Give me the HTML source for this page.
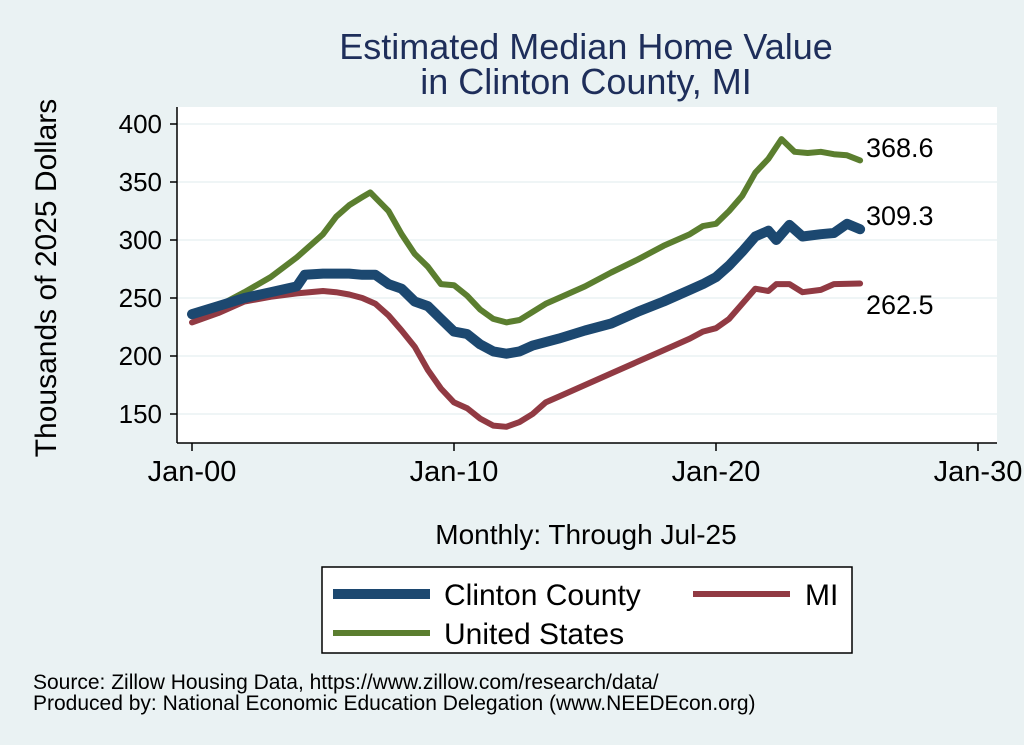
<!DOCTYPE html>
<html><head><meta charset="utf-8"><style>
body{margin:0;background:#eaf2f3;}
svg{display:block;font-family:"Liberation Sans",Arial,sans-serif;}
</style></head><body>
<svg id="chart" width="1024" height="745">
<rect width="1024" height="745" fill="#eaf2f3"/>
<rect x="177" y="107" width="820" height="336" fill="#ffffff"/>
<text x="586" y="59" text-anchor="middle" font-size="36" fill="#1e2e5a">Estimated Median Home Value</text>
<text x="586" y="94" text-anchor="middle" font-size="36" fill="#1e2e5a">in Clinton County, MI</text>
<text transform="translate(56,278) rotate(-90)" text-anchor="middle" font-size="30" fill="#000">Thousands of 2025 Dollars</text>
<text x="586" y="544" text-anchor="middle" font-size="28" fill="#000">Monthly: Through Jul-25</text>
<g id="grid"></g><g id="axes"></g><g id="series"></g>
<rect x="322" y="567" width="530" height="86" fill="#fff" stroke="#000" stroke-width="1.5"/>
<g><line x1="333" y1="594" x2="430" y2="594" stroke="#1c4870" stroke-width="10"/><text x="444" y="605" font-size="30">Clinton County</text></g>
<g><line x1="693" y1="594" x2="790" y2="594" stroke="#913a43" stroke-width="6"/><text x="805" y="605" font-size="30">MI</text></g>
<g><line x1="333" y1="633" x2="430" y2="633" stroke="#5b7e2f" stroke-width="6"/><text x="444" y="644" font-size="30">United States</text></g>
<text x="33" y="689" font-size="21">Source: Zillow Housing Data, https://www.zillow.com/research/data/</text>
<text x="33" y="710" font-size="21">Produced by: National Economic Education Delegation (www.NEEDEcon.org)</text>
</svg>
<script>
const yTicks=[150,200,250,300,350,400];
const xTicks=[2000,2010,2020,2030];
const xTickLabels=["Jan-00","Jan-10","Jan-20","Jan-30"];
const usYears=[2000,2001,2002,2003,2004,2005,2005.5,2006,2006.5,2006.8,2007.5,2008,2008.5,2009,2009.5,2010,2010.5,2011,2011.5,2012,2012.5,2013,2013.5,2014,2015,2016,2017,2018,2019,2019.5,2020,2020.5,2021,2021.5,2022,2022.5,2023,2023.5,2024,2024.5,2025,2025.5];
const usVals=[235,243,255,268,285,305,320,330,337,341,325,305,288,277,262,261,252,240,232,229,231,238,245,250,260,272,283,295,305,312,314,325,338,358,370,387,376,375,376,374,373,368.6];
const clYears=[2000,2001,2002,2003,2004,2004.3,2005,2006,2006.5,2007,2007.5,2008,2008.5,2009,2009.5,2010,2010.5,2011,2011.5,2012,2012.5,2013,2014,2015,2016,2017,2018,2019,2019.5,2020,2020.5,2021,2021.5,2022,2022.3,2022.8,2023.3,2024,2024.5,2025,2025.5];
const clVals=[236,243,250,255,260,270,271,271,270,270,262,258,247,243,232,221,219,210,204,202,204,209,215,222,228,238,247,257,262,268,278,290,303,308,300,313,303,305,306,314,309.3];
const miYears=[2000,2001,2002,2003,2004,2005,2005.5,2006,2006.5,2007,2007.5,2008,2008.5,2009,2009.5,2010,2010.5,2011,2011.5,2012,2012.5,2013,2013.5,2014,2015,2016,2017,2018,2019,2019.5,2020,2020.5,2021,2021.5,2022,2022.3,2022.8,2023.3,2024,2024.5,2025.5];
const miVals=[229,237,247,251,254,256,255,253,250,245,235,222,208,188,172,160,155,146,140,139,143,150,160,165,175,185,195,205,215,221,224,232,245,258,256,262,262,255,257,262,262.5];
const NS="http://www.w3.org/2000/svg";
const X=v=>192+(v-2000)*26.2;
const Y=v=>124+(400-v)*1.16;
function mk(tag,attrs,parent){const e=document.createElementNS(NS,tag);for(const k in attrs)e.setAttribute(k,attrs[k]);parent.appendChild(e);return e;}
const grid=document.getElementById('grid'),axes=document.getElementById('axes'),ser=document.getElementById('series');
mk('line',{x1:177,y1:443,x2:997,y2:443,stroke:'#000','stroke-width':1.5},axes);
mk('line',{x1:177,y1:107,x2:177,y2:443,stroke:'#000','stroke-width':1.5},axes);
yTicks.forEach(t=>{
 const g=mk('line',{x1:177,y1:Y(t),x2:997,y2:Y(t),stroke:'#eaf2f3','stroke-width':1.5},grid);
 
 
 mk('line',{x1:170,y1:Y(t),x2:177,y2:Y(t),stroke:'#000','stroke-width':1.5},axes);
 const tx=mk('text',{x:162,y:Y(t)+9,'text-anchor':'end','font-size':26},axes);tx.textContent=t;
 
 
});
xTicks.forEach((t,i)=>{
 mk('line',{x1:X(t),y1:443,x2:X(t),y2:451,stroke:'#000','stroke-width':1.5},axes);
 const tx=mk('text',{x:X(t),y:481,'text-anchor':'middle','font-size':29},axes);tx.textContent=xTickLabels[i];
 
 
});
function line(xs,vs,color,w,name,label,ly){
 const p=mk('path',{d:xs.map((x,i)=>(i?'L':'M')+X(x).toFixed(1)+' '+Y(vs[i]).toFixed(1)).join(''),fill:'none',stroke:color,'stroke-width':w,'stroke-linejoin':'round','stroke-linecap':'round'},ser);
 
 
 const t=mk('text',{x:866,y:ly,'font-size':27},ser);t.textContent=label;
 
 
}
line(miYears,miVals,'#913a43',6,'series-mi',miVals[miVals.length-1].toFixed(1),314);
line(usYears,usVals,'#5b7e2f',6,'series-us',usVals[usVals.length-1].toFixed(1),157);
line(clYears,clVals,'#1c4870',10,'series-clinton',clVals[clVals.length-1].toFixed(1),225);
</script>
</body></html>
